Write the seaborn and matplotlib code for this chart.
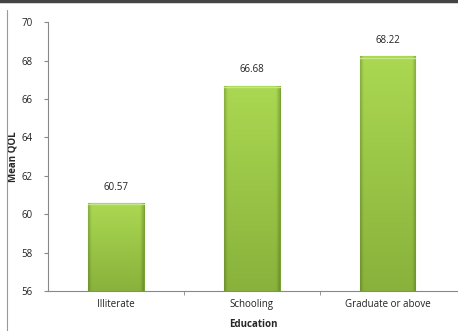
import matplotlib
matplotlib.use("Agg")
import matplotlib.pyplot as plt
import seaborn as sns
import pandas as pd
import numpy as np
from matplotlib.lines import Line2D

categories = ["Illiterate", "Schooling", "Graduate or above"]
values = [60.57, 66.68, 68.22]
yticks = [56, 58, 60, 62, 64, 66, 68, 70]

sns.set_style("white")
plt.rcParams['font.family'] = ['Open Sans', 'DejaVu Sans']

df = pd.DataFrame({"Education": categories, "Mean QOL": values})

fig = plt.figure(figsize=(4.58, 3.31), dpi=100)
ax = fig.add_axes([0.105, 0.121, 0.895, 0.812])

sns.barplot(data=df, x="Education", y="Mean QOL", ax=ax, width=0.41,
            color="#9cc94b", edgecolor="#78a232", linewidth=0.8, saturation=1)

# shaded fill clipped to bars: lighter at top, darker at bottom and sides
top = np.array([0xab, 0xd8, 0x52]) / 255
bot = np.array([0x88, 0xb2, 0x3b]) / 255
ny, nx = 200, 60
t = np.linspace(0, 1, ny)[:, None, None]  # 0 at top
img = top * (1 - t) + bot * t
img = np.repeat(img, nx, axis=1)
xs = np.linspace(-1, 1, nx)
edge = np.clip((np.abs(xs) - 0.88) / 0.12, 0, 1)[None, :, None]
img = img * (1 - 0.18 * edge)
for p in ax.patches:
    x0, y0 = p.get_x(), p.get_y()
    w, h = p.get_width(), p.get_height()
    im = ax.imshow(img, extent=[x0, x0 + w, 56, y0 + h],
                   aspect="auto", zorder=p.get_zorder() + 0.1, origin="upper")
    im.set_clip_path(p)
    ax.add_line(Line2D([x0, x0 + w], [y0 + h - 0.06, y0 + h - 0.06],
                       color="#c6e68a", lw=1.0, zorder=p.get_zorder() + 0.2))

ax.set_ylim(56, 70)
ax.set_xlim(-0.5, 2.52)
ax.set_yticks(yticks)
ax.set_yticklabels([str(t) for t in yticks], fontsize=7, color="#222222")

ax.set_xticks([0, 1, 2])
ax.set_xticklabels(categories, fontsize=7, color="#222222")
ax.tick_params(axis="x", length=0, pad=6)
ax.set_xticks([0.5, 1.5], minor=True)
ax.tick_params(axis="x", which="minor", length=3, color="#888888", direction="out", bottom=True)
ax.tick_params(axis="y", length=3, color="#888888", direction="out", left=True, pad=8)

for s in ["top", "right"]:
    ax.spines[s].set_visible(False)
for s in ["left", "bottom"]:
    ax.spines[s].set_color("#888888")
    ax.spines[s].set_linewidth(0.8)

ax.set_xlabel("Education", fontsize=7, fontweight="bold", labelpad=6)
ax.set_ylabel("Mean QOL", fontsize=7, fontweight="bold")
ax.yaxis.set_label_coords(-0.073, 0.5)

for i, v in enumerate(values):
    ax.text(i, v + 0.55, f"{v:.2f}", ha="center", va="bottom", fontsize=7, color="#222222")

fig.add_artist(Line2D([0, 1], [0.997, 0.997], transform=fig.transFigure, color="#444444", lw=2.5))
fig.add_artist(Line2D([7/458, 7/458], [0, 1 - 10/331], transform=fig.transFigure, color="#999999", lw=0.8))

fig.savefig("out.png", dpi=100)
